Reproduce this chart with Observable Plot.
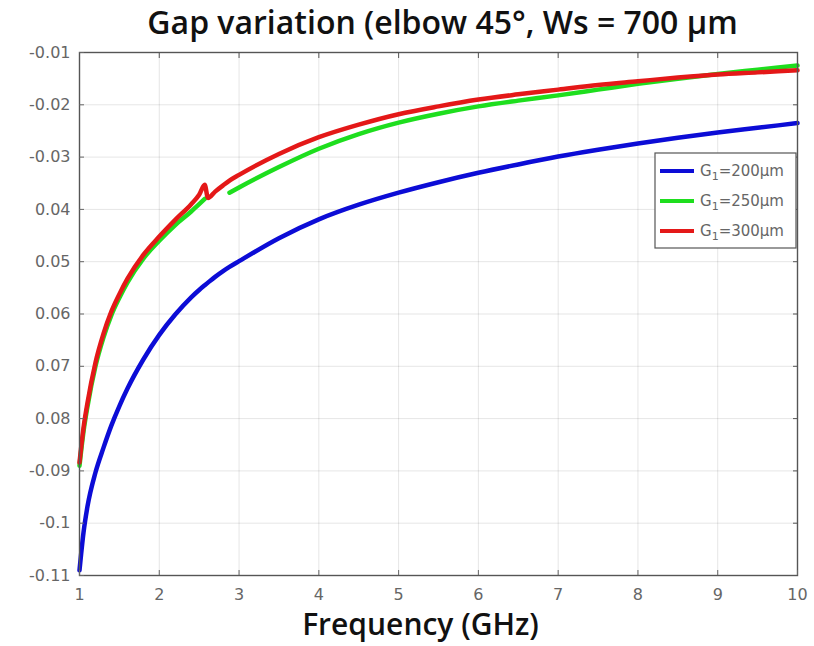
<!DOCTYPE html>
<html><head><meta charset="utf-8">
<script src="https://cdn.jsdelivr.net/npm/d3@7"></script>
<script src="https://cdn.jsdelivr.net/npm/@observablehq/plot@0.6"></script>
<style>body{margin:0;background:#fff;} #chart svg{display:block;}</style>
</head><body><div id="chart"></div>
<script>
const title = "Gap variation (elbow 45°, Ws = 700 µm";
const xLabel = "Frequency (GHz)";

const freq = [1, 1.05, 1.1, 1.2, 1.3, 1.4, 1.5, 1.6, 1.8, 2.0, 2.2, 2.4, 2.5, 2.57, 2.61, 2.7, 2.8, 2.88, 3.0, 3.5, 4, 4.5, 5, 5.5, 6, 6.5, 7, 7.5, 8, 8.5, 9, 9.5, 10];
const g200 = [-0.109, -0.1018, -0.0968, -0.0903, -0.0856, -0.0813, -0.0776, -0.0743, -0.0687, -0.0640, -0.0601, -0.0568, -0.0554, -0.0545, -0.0540, -0.0529, -0.0518, -0.0510, -0.0499, -0.0455, -0.0419, -0.0391, -0.0368, -0.0348, -0.0330, -0.0314, -0.0299, -0.0286, -0.0274, -0.0263, -0.0253, -0.0244, -0.0235];
const g250 = [-0.0890, -0.0825, -0.0777, -0.0700, -0.0645, -0.0602, -0.0569, -0.0540, -0.0494, -0.0460, -0.0430, -0.0404, -0.0390, -0.0380, null, null, null, -0.0368, -0.0358, -0.0319, -0.0284, -0.0256, -0.0234, -0.0217, -0.0203, -0.0192, -0.0182, -0.0171, -0.0160, -0.0150, -0.0141, -0.0133, -0.0125];
const g300 = [-0.0884, -0.0818, -0.0770, -0.0693, -0.0638, -0.0595, -0.0562, -0.0533, -0.0487, -0.0452, -0.0420, -0.0390, -0.0372, -0.0353, -0.0378, -0.0366, -0.0354, -0.0345, -0.0334, -0.0294, -0.0262, -0.0238, -0.0218, -0.0203, -0.0190, -0.0180, -0.0171, -0.0162, -0.0155, -0.0148, -0.0142, -0.0138, -0.0134];

const seriesValues = [g200, g250, g300];
const seriesColors = ["#0c0cd6", "#1ede1e", "#e41818"];
const legendMain = "G";
const legendSub = "1";
const legendRest = ["=200µm", "=250µm", "=300µm"];

const xTicks = [1, 2, 3, 4, 5, 6, 7, 8, 9, 10];
const yTicks = [-0.01, -0.02, -0.03, -0.04, -0.05, -0.06, -0.07, -0.08, -0.09, -0.1, -0.11];
const yTickLabels = ["-0.01", "-0.02", "-0.03", "0.04", "0.05", "0.06", "0.07", "0.08", "-0.09", "-0.1", "-0.11"];
const yLabelMap = new Map(yTicks.map((v, i) => [v, yTickLabels[i]]));

const rows = seriesValues.map((vals, s) => freq.map((f, i) => ({f, v: vals[i], s})));

const W = 814, H = 646, mL = 79, mR = 17, mT = 52, mB = 71;
const tickFont = "'DejaVu Sans', sans-serif";

const chart = Plot.plot({
  width: W, height: H,
  marginLeft: mL, marginRight: mR, marginTop: mT, marginBottom: mB,
  style: {fontFamily: tickFont, background: "#fff", overflow: "visible"},
  x: {domain: [1, 10]},
  y: {domain: [-0.11, -0.01]},
  marks: [
    Plot.gridX(xTicks, {stroke: "#000", strokeOpacity: 0.1}),
    Plot.gridY(yTicks, {stroke: "#000", strokeOpacity: 0.1}),
    ...rows.map((r, s) => Plot.line(r, {x: "f", y: "v", stroke: seriesColors[s], strokeWidth: 4.5, curve: "monotone-x"})),
    Plot.frame({stroke: "#555", strokeWidth: 1.4}),
    Plot.axisX(xTicks, {anchor: "bottom", tickSize: -5, tickPadding: 18, fontSize: 16, color: "#666", label: null}),
    Plot.axisX(xTicks, {anchor: "top", tickSize: -5, tickFormat: () => "", color: "#555", label: null}),
    Plot.axisY(yTicks, {anchor: "left", tickSize: -5, tickPadding: 14, fontSize: 16, color: "#666", tickFormat: d => yLabelMap.get(d), label: null}),
    Plot.axisY(yTicks, {anchor: "right", tickSize: -5, tickFormat: () => "", color: "#555", label: null}),
    Plot.text([title], {text: d => d, frameAnchor: "top", lineAnchor: "middle", dx: 4, dy: -29, fontSize: 32, fontWeight: 600, fontFamily: "'Open Sans', sans-serif", fill: "#111"}),
    Plot.text([xLabel], {text: d => d, frameAnchor: "bottom", lineAnchor: "middle", dx: -18, dy: 50, fontSize: 30, fontWeight: 600, fontFamily: "'Open Sans', sans-serif", fill: "#111"})
  ]
});
document.getElementById("chart").append(chart);

// legend box (MATLAB-style, top-right inside the axes)
const svg = d3.select(chart);
const lgX = 655, lgY = 153, lgW = 141, lgH = 95, rowH = 30;
const lg = svg.append("g");
lg.append("rect").attr("x", lgX).attr("y", lgY).attr("width", lgW).attr("height", lgH)
  .attr("fill", "#fff").attr("stroke", "#555").attr("stroke-width", 1.2);
legendRest.forEach((rest, i) => {
  const yy = lgY + 18 + i * rowH;
  lg.append("line").attr("x1", lgX + 5).attr("x2", lgX + 39).attr("y1", yy).attr("y2", yy)
    .attr("stroke", seriesColors[i]).attr("stroke-width", 4);
  const t = lg.append("text").attr("x", lgX + 45).attr("y", yy + 5).attr("text-anchor", "start")
    .attr("font-family", tickFont).attr("font-size", 15).attr("fill", "#666");
  t.append("tspan").text(legendMain);
  t.append("tspan").attr("font-size", 11).attr("dy", 4).text(legendSub);
  t.append("tspan").attr("dy", -4).text(rest);
});
</script></body></html>
